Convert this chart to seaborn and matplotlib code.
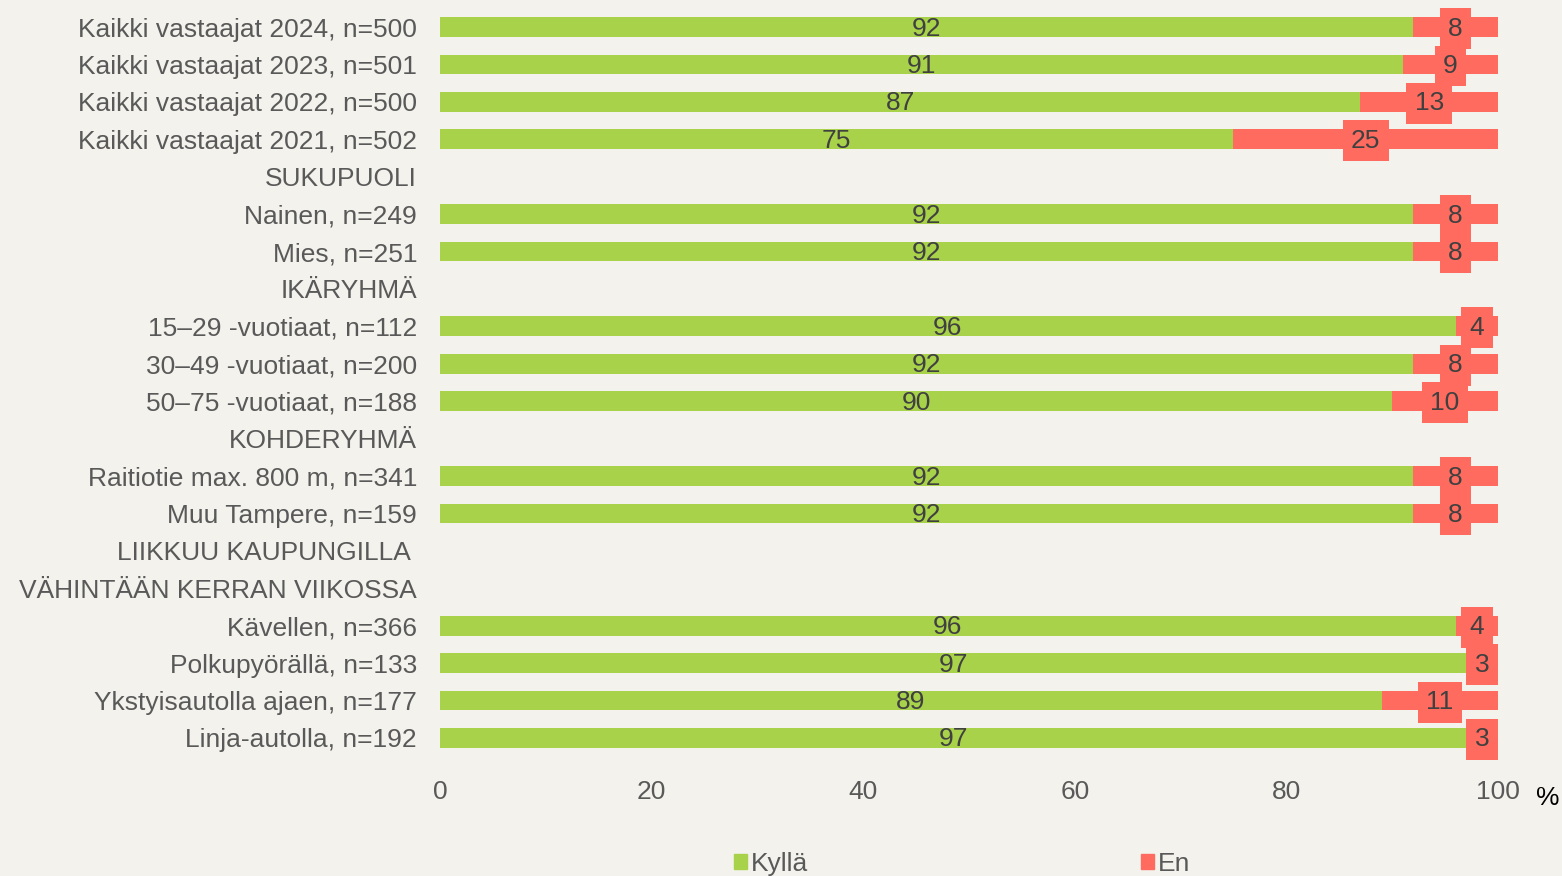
import numpy as np
import pandas as pd
import seaborn as sns
import matplotlib.pyplot as plt
from matplotlib.patches import Patch

labels = ['Kaikki vastaajat 2024, n=500', 'Kaikki vastaajat 2023, n=501',
          'Kaikki vastaajat 2022, n=500', 'Kaikki vastaajat 2021, n=502',
          'SUKUPUOLI', 'Nainen, n=249', 'Mies, n=251',
          'IKÄRYHMÄ', '15–29 -vuotiaat, n=112', '30–49 -vuotiaat, n=200',
          '50–75 -vuotiaat, n=188',
          'KOHDERYHMÄ', 'Raitiotie max. 800 m, n=341', 'Muu Tampere, n=159',
          'LIIKKUU KAUPUNGILLA ', 'VÄHINTÄÄN KERRAN VIIKOSSA',
          'Kävellen, n=366', 'Polkupyörällä, n=133', 'Ykstyisautolla ajaen, n=177',
          'Linja-autolla, n=192']
kylla = [92, 91, 87, 75, np.nan, 92, 92, np.nan, 96, 92, 90, np.nan, 92, 92,
         np.nan, np.nan, 96, 97, 89, 97]
en = [8, 9, 13, 25, np.nan, 8, 8, np.nan, 4, 8, 10, np.nan, 8, 8,
      np.nan, np.nan, 4, 3, 11, 3]

GREEN = '#A9D24B'
RED = '#FF6C5F'
BG = '#F3F2ED'
TXT = '#595959'
LBL = '#404040'
FS = 19

df = pd.DataFrame({'label': labels, 'Kyllä': kylla, 'En': en})
df['total'] = df['Kyllä'] + df['En']

plt.rcParams['font.family'] = ['Liberation Sans', 'DejaVu Sans']
fig = plt.figure(figsize=(15.62, 8.76), dpi=100, facecolor=BG)
ax = fig.add_axes([0.2817, 0.1362, 0.6773, 0.8543])
ax.set_facecolor(BG)

# red = whole bar, green drawn on top -> stacked look
sns.barplot(data=df, x='total', y='label', order=labels, color=RED,
            width=0.53, saturation=1, ax=ax, orient='h')
sns.barplot(data=df, x='Kyllä', y='label', order=labels, color=GREEN,
            width=0.53, saturation=1, ax=ax, orient='h')

for i, (k, e) in enumerate(zip(kylla, en)):
    if np.isnan(k):
        continue
    ax.text(k / 2, i + 0.04, f'{k:.0f}', ha='center', va='center',
            fontsize=FS, color=LBL)
    ax.text(k + e / 2, i + 0.04, f'{e:.0f}', ha='center', va='center',
            fontsize=FS, color=LBL,
            bbox=dict(boxstyle='square,pad=0.32', fc=RED, ec='none'))

ax.set_xlim(0, 100)
ax.set_ylim(19.5, -0.5)
ax.set_xticks([0, 20, 40, 60, 80, 100])
ax.tick_params(axis='x', length=0, pad=17, labelsize=FS, labelcolor=TXT)
ax.tick_params(axis='y', length=0, pad=16.5, labelsize=FS, labelcolor=TXT)
ax.set_xlabel('')
ax.set_ylabel('')
for s in ax.spines.values():
    s.set_visible(False)
ax.grid(False)
fig.text(1548 / 1562, 1 - 798 / 876, '%', fontsize=FS, color='black',
         ha='center', va='center')

handles = [Patch(color=GREEN, label='Kyllä'), Patch(color=RED, label='En')]
fig.legend(handles=handles, loc='center', bbox_to_anchor=(0.616, 0.014),
           ncol=2, frameon=False, fontsize=FS, labelcolor=TXT,
           handlelength=0.5, handleheight=0.5, handletextpad=0.15,
           columnspacing=12.6, borderpad=0)

fig.savefig('out.png', dpi=100, facecolor=BG)
